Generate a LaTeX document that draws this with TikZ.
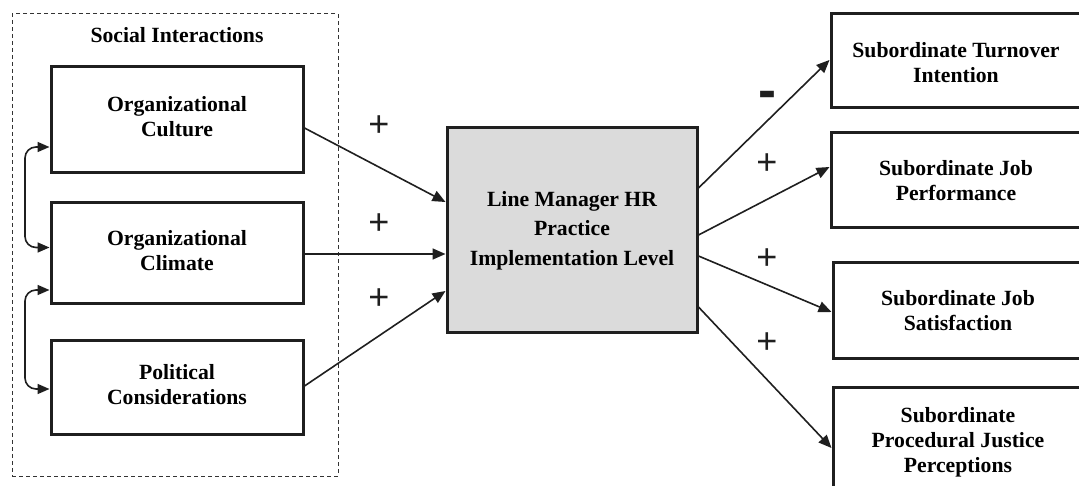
\documentclass[tikz,border=0pt]{standalone}
\usepackage{fontspec}
\setmainfont{Liberation Serif}
\newfontfamily\signfont{Liberation Sans}
\usetikzlibrary{arrows.meta,calc}
\tikzset{
  box/.style={draw=black!88, line width=3pt, rectangle, inner sep=0pt, align=center,
    font=\fontsize{21.7}{25}\selectfont\bfseries},
  conn/.style={draw=black!88, line width=1.6pt, -{Triangle[length=13pt,width=11pt]}},
  biconn/.style={draw=black!88, line width=1.6pt, {Triangle[length=12pt,width=10pt]}-{Triangle[length=12pt,width=10pt]}, rounded corners=11pt},
  sign/.style={font=\signfont\fontsize{36}{36}\selectfont, inner sep=0pt, text=black!88},
  minus/.style={font=\signfont\bfseries\fontsize{54}{54}\selectfont, inner sep=0pt, text=black!88},
}
\begin{document}
\begin{tikzpicture}[x=1pt,y=-1pt]
\useasboundingbox (0,0) rectangle (1079,486);
% dashed group
\node[draw=black!80, dashed, dash pattern=on 4pt off 3pt, line width=1pt, minimum width=326pt, minimum height=462pt, inner sep=0pt] (si) at (175,245) {};
\node[font=\fontsize{21.7}{25}\selectfont\bfseries] (sit) at (177,35) {Social Interactions};
% left boxes
\node[box, minimum width=252pt, minimum height=106pt] (b1) at (177,120) {};
\node[font=\fontsize{21.7}{25}\selectfont\bfseries, align=center] (bt1) at (177,116.5) {Organizational\\Culture};
\node[box, minimum width=252pt, minimum height=101pt] (b2) at (177,253.5) {};
\node[font=\fontsize{21.7}{25}\selectfont\bfseries, align=center] (bt2) at (177,251) {Organizational\\Climate};
\node[box, minimum width=252pt, minimum height=94pt] (b3) at (177,387) {};
\node[font=\fontsize{21.7}{25}\selectfont\bfseries, align=center] (bt3) at (177,385) {Political\\Considerations};
% center
\node[box, fill=gray!28, minimum width=250pt, minimum height=205pt, font=\fontsize{21.7}{29.5}\selectfont\bfseries] (c) at (572,230.5) {Line Manager HR\\Practice\\Implementation Level};
% right boxes (extend past the page edge)
\node[box, minimum width=260pt, minimum height=94pt] (r1) at (961,61) {};
\node[font=\fontsize{21.7}{25}\selectfont\bfseries, align=center] (t1) at (956,62.5) {Subordinate Turnover\\Intention};
\node[box, minimum width=260pt, minimum height=95pt] (r2) at (961,180.5) {};
\node[font=\fontsize{21.7}{25}\selectfont\bfseries, align=center] (t2) at (956,181) {Subordinate Job\\Performance};
\node[box, minimum width=258pt, minimum height=95pt] (r3) at (962,310.5) {};
\node[font=\fontsize{21.7}{25}\selectfont\bfseries, align=center] (t3) at (958,310.5) {Subordinate Job\\Satisfaction};
\node[box, minimum width=258pt, minimum height=120pt] (r4) at (962,447) {};
\node[font=\fontsize{21.7}{25}\selectfont\bfseries, align=center] (t4) at (958,442) {Subordinate\\Procedural Justice\\Perceptions};
% inputs
\draw[conn] ([yshift=-8pt]b1.east) -- ([yshift=28.5pt]c.west);
\draw[conn] ([yshift=-0.5pt]b2.east) -- ([yshift=-23.5pt]c.west);
\draw[conn] ([yshift=1pt]b3.east) -- ([yshift=-60.5pt]c.west);
% outputs
\draw[conn] ([yshift=42.5pt]c.east) -- ([yshift=1pt]r1.west);
\draw[conn] ([yshift=-4.5pt]c.east) -- ([yshift=13.5pt]r2.west);
\draw[conn] ([yshift=-25.5pt]c.east) -- ([yshift=-1.5pt]r3.west);
\draw[conn] ([yshift=-76.5pt]c.east) -- ([yshift=-1pt]r4.west);
% correlations
\coordinate (lx) at (25,0);
\coordinate (a1) at ([yshift=-27pt]b1.west);
\coordinate (a2) at ([yshift=6pt]b2.west);
\coordinate (a3) at ([yshift=-36.5pt]b2.west);
\coordinate (a4) at ([yshift=-2pt]b3.west);
\draw[biconn] (a1) -- (lx |- a1) -- (lx |- a2) -- (a2);
\draw[biconn] (a3) -- (lx |- a3) -- (lx |- a4) -- (a4);
% signs
\node[sign] (p1) at (379,126) {+};
\node[sign] (p2) at (379,224) {+};
\node[sign] (p3) at (379,299) {+};
\node[minus] (m1) at (767,100) {-};
\node[sign] (p4) at (767,164) {+};
\node[sign] (p5) at (767,259) {+};
\node[sign] (p6) at (767,343) {+};
\end{tikzpicture}
\end{document}
